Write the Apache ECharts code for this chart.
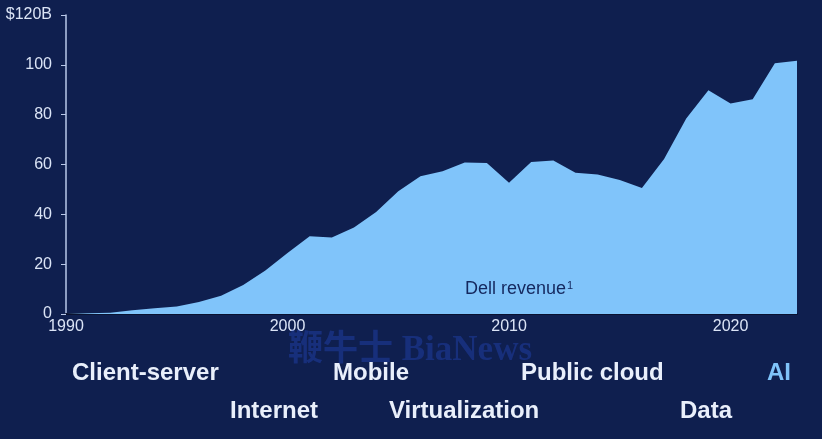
<!DOCTYPE html>
<html>
<head>
<meta charset="utf-8">
<script src="https://cdn.jsdelivr.net/npm/echarts@6/dist/echarts.min.js"></script>
<style>
html,body{margin:0;padding:0;background:#0f1f4f;}
#chart{width:822px;height:439px;}
</style>
</head>
<body>
<div id="chart"></div>
<script>
const years = [];
for (let y = 1990; y <= 2023; y++) years.push(String(y));
const revenue = [0, 0.3, 0.5, 1.5, 2.3, 3.0, 4.8, 7.3, 11.6, 17.5,
  24.5, 31.2, 30.7, 34.7, 40.9, 49.3, 55.3, 57.3, 60.8, 60.6,
  52.7, 61.0, 61.6, 56.7, 56.0, 53.8, 50.6, 62.2, 78.5, 89.8,
  84.5, 86.2, 100.6, 101.6];
const yTicks = [0, 20, 40, 60, 80, 100, 120];
const seriesLabel = 'Dell revenue';
const eraRow1 = ['Client-server', 'Mobile', 'Public cloud', 'AI'];
const eraRow2 = ['Internet', 'Virtualization', 'Data'];
const watermark = '鞭牛士 BiaNews';

const chart = echarts.init(document.getElementById('chart'));
const font = 'Liberation Sans, Arial, sans-serif';
const bold = {fontFamily: font, fontWeight: 'bold', fontSize: 24, fill: '#e9effb'};
const row1X = [72, 333, 521, 767];
const row2X = [230, 389, 680];
const graphics = [];
eraRow1.forEach((t, i) => graphics.push({type: 'text', left: row1X[i], top: 361, z: 10,
  style: Object.assign({}, bold, {text: t, fill: t === 'AI' ? '#7fc3f9' : '#e9effb'})}));
eraRow2.forEach((t, i) => graphics.push({type: 'text', left: row2X[i], top: 399, z: 10,
  style: Object.assign({}, bold, {text: t})}));
graphics.push({type: 'text', left: 288, top: 333, z: 5,
  style: {text: watermark, fontFamily: 'Liberation Serif, Noto Sans CJK SC, serif', fontWeight: 'bold', fontSize: 35, fill: 'rgba(35,70,185,0.42)'}});
graphics.push({type: 'text', left: 465, top: 280, z: 10,
  style: {text: '{a|' + seriesLabel + '}{s|1}', rich: {
    a: {fontFamily: font, fontSize: 18, fill: '#14285e'},
    s: {fontFamily: font, fontSize: 11, fill: '#14285e', verticalAlign: 'top', padding: [0, 0, 8, 1]}
  }}});

chart.setOption({
  backgroundColor: '#0f1f4f',
  animation: false,
  grid: {left: 66, right: 25, top: 15, bottom: 125, containLabel: false},
  xAxis: {
    type: 'category', data: years, boundaryGap: false,
    axisLine: {lineStyle: {color: '#0a1230', width: 2}},
    axisTick: {show: false},
    axisLabel: {
      interval: (i, v) => Number(v) % 10 === 0,
      color: '#dbe4f6', fontSize: 16, fontFamily: font, margin: 5
    },
    splitLine: {show: false}
  },
  yAxis: {
    type: 'value', min: 0, max: 120, interval: 20,
    axisLine: {show: true, lineStyle: {color: '#b9c8e8', width: 1.5}},
    axisTick: {show: true, length: 5, lineStyle: {color: '#b9c8e8'}},
    axisLabel: {
      color: '#dbe4f6', fontSize: 16, fontFamily: font, margin: 14,
      formatter: v => (yTicks.indexOf(v) >= 0 ? (v === 120 ? '$120B' : String(v)) : '')
    },
    splitLine: {show: false}
  },
  series: [{
    type: 'line', data: revenue, symbol: 'none', smooth: false,
    lineStyle: {width: 0},
    areaStyle: {color: '#80c4fa', opacity: 1},
    z: 1
  }],
  graphic: graphics
});
</script>
</body>
</html>
